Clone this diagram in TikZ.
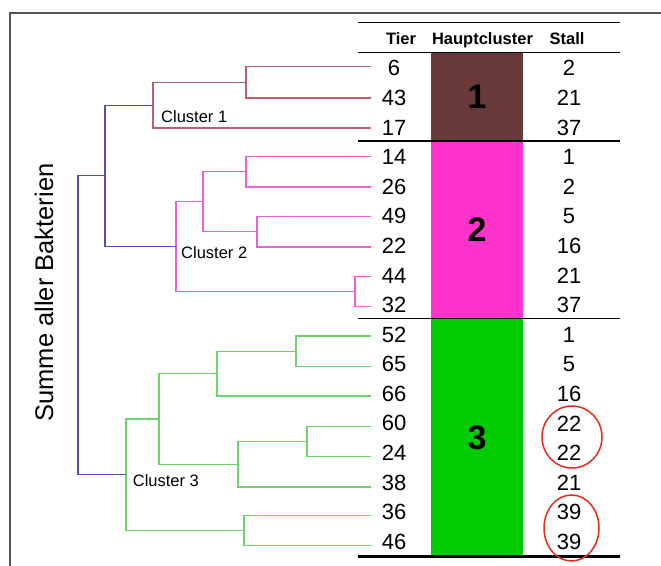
\documentclass[tikz,border=0pt]{standalone}
\usepackage{fontspec}
\setmainfont{Liberation Sans}
\usetikzlibrary{shapes.geometric}
\definecolor{framegray}{HTML}{555555}
\definecolor{brownline}{HTML}{B8606B}
\definecolor{pinkline}{HTML}{EC5FD0}
\definecolor{greenline}{HTML}{6CD46C}
\definecolor{blueline}{HTML}{5050B4}
\definecolor{brownfill}{HTML}{673939}
\definecolor{pinkfill}{HTML}{FF33CC}
\definecolor{greenfill}{HTML}{00CC00}
\definecolor{redcircle}{HTML}{E62A1E}
\tikzset{
  dendro/.style={line width=1.2pt},
  brownbranch/.style={dendro, draw=brownline},
  pinkbranch/.style={dendro, draw=pinkline},
  greenbranch/.style={dendro, draw=greenline},
  bluebranch/.style={dendro, draw=blueline},
  numtext/.style={inner sep=0pt, font=\fontsize{22}{24}\selectfont},
  headtext/.style={inner sep=0pt, anchor=base, font=\fontsize{16.5}{18}\selectfont\bfseries},
  clusterlabel/.style={inner sep=0pt, anchor=west, font=\fontsize{16.5}{18}\selectfont},
  hcbox/.style={inner sep=0pt, minimum width=92pt, font=\fontsize{34}{36}\selectfont\bfseries},
  tableline/.style={line width=1.2pt, draw=black},
  mark circle/.style={ellipse, draw=redcircle, line width=1.5pt, inner sep=0pt}
}
\begin{document}
\begin{tikzpicture}[x=1pt,y=-1pt]
\useasboundingbox (0,0) rectangle (661,565);
% frame
\coordinate (fbl) at (10,566);
\coordinate (ftr) at (662,13);
\draw[framegray, line width=1.3pt] (fbl) |- (ftr);

% leaf coordinates
\coordinate (l0) at (371,66.7);
\coordinate (l1) at (371,98.0);
\coordinate (l2) at (371,128.0);
\coordinate (l3) at (371,156.5);
\coordinate (l4) at (371,187.0);
\coordinate (l5) at (371,216.3);
\coordinate (l6) at (371,247.0);
\coordinate (l7) at (371,276.2);
\coordinate (l8) at (371,306.5);
\coordinate (l9) at (371,336.0);
\coordinate (l10) at (371,366.5);
\coordinate (l11) at (371,396.0);
\coordinate (l12) at (371,426.5);
\coordinate (l13) at (371,456.5);
\coordinate (l14) at (371,487.0);
\coordinate (l15) at (371,515.3);
\coordinate (l16) at (371,545.3);
% internal nodes
\coordinate (c1a) at (246,82.35);
\coordinate (c1) at (153,105.2);
\coordinate (c2a) at (246,171.75);
\coordinate (c2b) at (257,231.65);
\coordinate (c2ab) at (203,201.7);
\coordinate (c2c) at (355,291.35);
\coordinate (c2) at (176,246.5);
\coordinate (c3a) at (296,351.25);
\coordinate (c3ab) at (217,373.6);
\coordinate (c3c) at (307,441.5);
\coordinate (c3cd) at (238,464.25);
\coordinate (c3x) at (159,418.9);
\coordinate (c3e) at (244,530.3);
\coordinate (c3) at (126,474.6);
\coordinate (b12) at (105,175.85);
\coordinate (root) at (78,325.2);

% cluster 1
\draw[brownbranch] (l0) -| (c1a) |- (l1);
\draw[brownbranch] (c1a) -| (c1) |- (l2);
% cluster 2
\draw[pinkbranch] (l3) -| (c2a) |- (l4);
\draw[pinkbranch] (l5) -| (c2b) |- (l6);
\draw[pinkbranch] (c2a) -| (c2ab) |- (c2b);
\draw[pinkbranch] (l7) -| (c2c) |- (l8);
\draw[pinkbranch] (c2ab) -| (c2) |- (c2c);
% cluster 3
\draw[greenbranch] (l9) -| (c3a) |- (l10);
\draw[greenbranch] (c3a) -| (c3ab) |- (l11);
\draw[greenbranch] (l12) -| (c3c) |- (l13);
\draw[greenbranch] (c3c) -| (c3cd) |- (l14);
\draw[greenbranch] (c3ab) -| (c3x) |- (c3cd);
\draw[greenbranch] (l15) -| (c3e) |- (l16);
\draw[greenbranch] (c3x) -| (c3) |- (c3e);
% top level
\draw[bluebranch] (c1) -| (b12) |- (c2);
\draw[bluebranch] (b12) -| (root) |- (c3);

% cluster labels
\node[clusterlabel] (lab1) at (161,116.7) {Cluster 1};
\node[clusterlabel] (lab2) at (181,252.3) {Cluster 2};
\node[clusterlabel] (lab3) at (132.7,480.7) {Cluster 3};

% axis label
\node[inner sep=0pt, rotate=90, font=\fontsize{25.5}{27}\selectfont] (ylab) at (44,292.5) {Summe aller Bakterien};

% coloured blocks
\node[hcbox, fill=brownfill, minimum height=88.7pt] (hc1) at (477,96.65) {1};
\node[hcbox, fill=pinkfill, minimum height=177.3pt] (hc2) at (477,229.65) {2};
\node[hcbox, fill=greenfill, minimum height=238.4pt] (hc3) at (477,437.5) {3};

% table lines
\coordinate (tl0a) at (358,22.7);   \coordinate (tl0b) at (619.5,22.7);
\coordinate (tl1a) at (358,52.3);   \coordinate (tl1b) at (619.5,52.3);
\coordinate (tl2a) at (358,141);    \coordinate (tl2b) at (619.5,141);
\coordinate (tl3a) at (358,318.3);  \coordinate (tl3b) at (619.5,318.3);
\coordinate (tl4a) at (358,556.7);  \coordinate (tl4b) at (619.5,556.7);
\draw[tableline] (tl0a) -- (tl0b);
\draw[tableline] (tl1a) -- (tl1b);
\draw[tableline] (tl2a) -- (tl2b);
\draw[tableline] (tl3a) -- (tl3b);
\draw[tableline, line width=3pt] (tl4a) -- (tl4b);

% headers
\node[headtext] (hTier) at (401,44.2) {Tier};
\node[headtext] (hHaupt) at (482.5,44.2) {Hauptcluster};
\node[headtext] (hStall) at (567,44.2) {Stall};

% rows
\foreach \t/\s [count=\i from 0] in {6/2,43/21,17/37,14/1,26/2,49/5,22/16,44/21,32/37,52/1,65/5,66/16,60/22,24/22,38/21,36/39,46/39}{
  \node[numtext] (t\i) at (394,{68.3+29.59*\i}) {\t};
  \node[numtext] (s\i) at (569,{68.3+29.59*\i}) {\s};
}

% red circles
\node[mark circle, minimum width=60pt, minimum height=62pt] (e1) at (572,437) {};
\node[mark circle, minimum width=55pt, minimum height=66pt] (e2) at (571.5,528) {};
\end{tikzpicture}
\end{document}
